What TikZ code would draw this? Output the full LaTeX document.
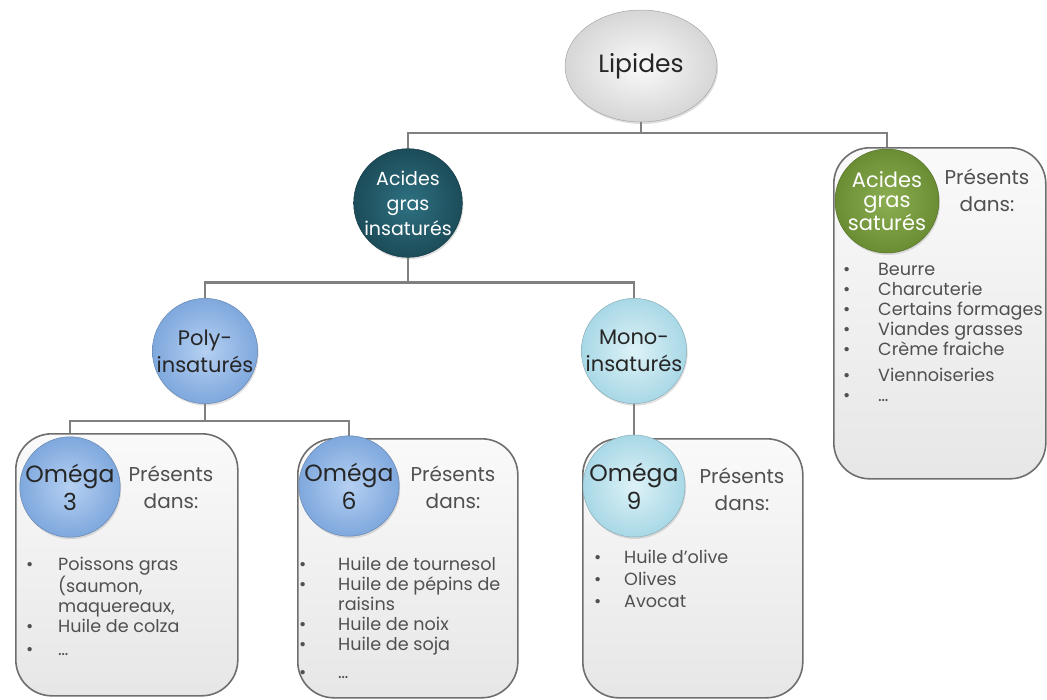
\documentclass[tikz,border=0pt]{standalone}
\usepackage{fontspec}
\setmainfont{Poppins}
\usetikzlibrary{shapes.geometric,shadows,backgrounds}
\definecolor{linegray}{HTML}{808080}
\definecolor{boxgray}{HTML}{F2F2F2}
\definecolor{boxline}{HTML}{6E6E6E}
\definecolor{txtgray}{HTML}{505050}
\definecolor{tealA}{HTML}{2E7182}
\definecolor{tealB}{HTML}{1C4C59}
\definecolor{greenA}{HTML}{8DAF52}
\definecolor{greenB}{HTML}{6A8C33}
\definecolor{blueA}{HTML}{B5D0F2}
\definecolor{blueB}{HTML}{7FA8DD}
\definecolor{cyanA}{HTML}{DDF2F7}
\definecolor{cyanB}{HTML}{A9D8E6}
\definecolor{grayA}{HTML}{FAFAFA}
\definecolor{grayB}{HTML}{D6D6D6}
\begin{document}
\begin{tikzpicture}[x=1pt,y=-1pt,
  conn/.style={draw=linegray,line width=2.2pt},
  bubble/.style={circle,inner sep=0pt,minimum size=102pt,align=center,
    draw=#1B!80!black,line width=0.5pt,shading=radial,inner color=#1A,outer color=#1B,
    drop shadow={opacity=0.25,shadow xshift=1pt,shadow yshift=-2pt}},
  infobox/.style={draw=boxline,line width=1.6pt,rounded corners=36pt,
    top color=white!60!boxgray,bottom color=boxgray!90!gray,anchor=north west,inner sep=0pt},
  pres/.style={align=center,text=txtgray,font=\fontsize{20}{27}\selectfont},
  items/.style={anchor=north west,inner sep=0pt,text=txtgray,font=\fontsize{17.6}{20}\selectfont}
]
\useasboundingbox (0,0) rectangle (1047,699);

% boxes
\node[infobox,minimum width=222pt,minimum height=262pt] (b3) at (15,433) {};
\node[infobox,minimum width=220pt,minimum height=259pt] (b6) at (297,438) {};
\node[infobox,minimum width=220pt,minimum height=259pt] (b9) at (582,438) {};
\node[infobox,minimum width=212pt,minimum height=331pt] (bs) at (833,147) {};

% bubbles
\node[ellipse,inner sep=0pt,minimum width=152pt,minimum height=112pt,draw=gray!70,line width=0.5pt,
  shading=radial,inner color=grayA,outer color=grayB,
  drop shadow={opacity=0.25,shadow xshift=1pt,shadow yshift=-2pt},
  font=\fontsize{25}{28}\selectfont,text=black!85] (lip) at (641,66) {Lipides};
\node[bubble=teal,minimum size=108pt,text=white,font=\fontsize{19}{25}\selectfont] (agi) at (408,203) {Acides\\gras\\insaturés};
\node[bubble=green,minimum size=104pt,text=white,font=\fontsize{21}{20}\selectfont] (ags) at (887,201) {Acides\\gras\\saturés};
\node[bubble=blue,minimum size=104pt,text=black!85,font=\fontsize{21}{27}\selectfont] (poly) at (205,351) {Poly-\\insaturés};
\node[bubble=cyan,minimum size=104pt,text=black!85,font=\fontsize{21}{27}\selectfont] (mono) at (634,351) {Mono-\\insaturés};
\node[bubble=blue,minimum size=100pt,text=black!85,font=\fontsize{23.5}{28}\selectfont] (o3) at (70,487) {Oméga\\3};
\node[bubble=blue,minimum size=98pt,text=black!85,font=\fontsize{23.5}{28}\selectfont] (o6) at (349,486) {Oméga\\6};
\node[bubble=cyan,minimum size=102pt,text=black!85,font=\fontsize{23.5}{28}\selectfont] (o9) at (634,486) {Oméga\\9};

% "Présents dans:"
\node[pres] (p3) at (171,487) {Présents\\dans:};
\node[pres] (p6) at (453,487) {Présents\\dans:};
\node[pres] (p9) at (742,489) {Présents\\dans:};
\node[pres] (ps) at (987,190) {Présents\\dans:};

% item lists
\node[items] (l3) at (26,556) {\begin{tabular}{@{}p{32pt}@{}l@{}}
\textbullet & Poissons gras\\
 & (saumon,\\
 & maquereaux,\\
\textbullet & Huile de colza\\[3pt]
\textbullet & …
\end{tabular}};
\node[items] (l6) at (299,556) {\begin{tabular}{@{}p{39pt}@{}l@{}}
\textbullet & Huile de tournesol\\
\textbullet & Huile de pépins de\\
 & raisins\\
\textbullet & Huile de noix\\
\textbullet & Huile de soja\\[8pt]
\textbullet & …
\end{tabular}};
\node[items] (l9) at (594,549) {\begin{tabular}{@{}p{30pt}@{}l@{}}
\textbullet & Huile d’olive\\[2pt]
\textbullet & Olives\\[2pt]
\textbullet & Avocat
\end{tabular}};
\node[items] (ls) at (843,261) {\begin{tabular}{@{}p{35pt}@{}l@{}}
\textbullet & Beurre\\
\textbullet & Charcuterie\\
\textbullet & Certains formages\\
\textbullet & Viandes grasses\\
\textbullet & Crème fraiche\\[6pt]
\textbullet & Viennoiseries\\
\textbullet & …
\end{tabular}};

% connectors
\begin{scope}[on background layer]
\draw[conn] (lip.south) -- ++(0,11) -| (agi.north);
\draw[conn] (lip.south) -- ++(0,11) -| (ags.north);
\draw[conn] (agi.south) -- ++(0,25) -| (poly.north);
\draw[conn] (agi.south) -- ++(0,25) -| (mono.north);
\draw[conn] (poly.south) -- ++(0,17) -| (o3.north);
\draw[conn] (poly.south) -- ++(0,17) -| (o6.north);
\draw[conn] (mono.south) -- (o9.north);
\end{scope}
\end{tikzpicture}
\end{document}
